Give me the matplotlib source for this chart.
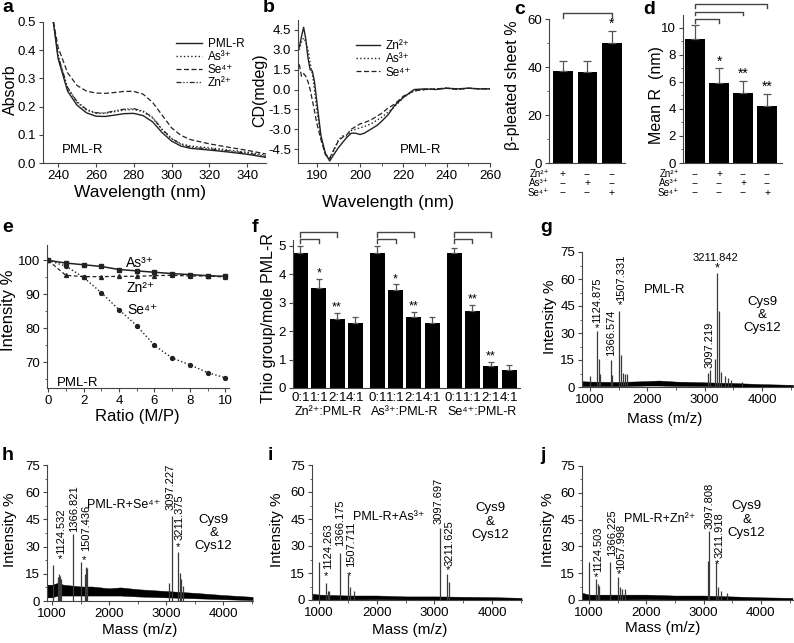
import numpy as np
import matplotlib
matplotlib.use('Agg')
import matplotlib.pyplot as plt
from matplotlib.ticker import MultipleLocator, FixedLocator, FormatStrFormatter
from matplotlib.scale import FuncScale
from matplotlib import transforms

plt.rcParams['font.family'] = ['Liberation Sans', 'DejaVu Sans']
plt.rcParams['xtick.labelsize'] = 9.5
plt.rcParams['ytick.labelsize'] = 9.5
plt.rcParams['axes.linewidth'] = 0.8
plt.rcParams['xtick.major.size'] = 3
plt.rcParams['ytick.major.size'] = 3
plt.rcParams['xtick.minor.size'] = 1.8
plt.rcParams['ytick.minor.size'] = 1.8
plt.rcParams['xtick.major.pad'] = 2
plt.rcParams['ytick.major.pad'] = 2

# ---- a) UV absorbance
a_wl = [237.5, 240, 245, 250, 255, 260, 265, 270, 275, 280, 285, 290, 295, 300, 305, 310, 320, 330, 340, 350]
a_pml = [0.50, 0.37, 0.255, 0.205, 0.178, 0.166, 0.165, 0.170, 0.175, 0.176, 0.168, 0.146, 0.108, 0.078, 0.060, 0.052, 0.046, 0.039, 0.031, 0.020]
a_as = [0.50, 0.38, 0.265, 0.215, 0.188, 0.176, 0.176, 0.182, 0.188, 0.190, 0.182, 0.160, 0.118, 0.086, 0.068, 0.060, 0.054, 0.046, 0.038, 0.028]
a_se = [0.50, 0.41, 0.32, 0.275, 0.255, 0.248, 0.247, 0.250, 0.254, 0.254, 0.244, 0.215, 0.170, 0.125, 0.098, 0.083, 0.068, 0.056, 0.045, 0.032]
a_zn = [0.50, 0.38, 0.268, 0.218, 0.190, 0.178, 0.178, 0.185, 0.191, 0.193, 0.184, 0.162, 0.120, 0.088, 0.066, 0.056, 0.050, 0.043, 0.035, 0.024]

# ---- b) CD spectra
b_wl = [186, 186.5, 187, 187.5, 188, 188.5, 189, 189.5, 190, 191, 192, 193, 194, 195, 196, 197, 198, 199, 200,
        202, 205, 208, 210, 213, 216, 220, 225, 230, 235, 240, 245, 250, 255, 260]
b_zn = [3.2, 4.0, 4.7, 3.8, 2.4, 1.5, 1.4, 0.6, -0.8, -3.5, -4.8, -5.4, -4.9, -4.4, -4.0, -3.6, -3.3, -3.3, -3.4,
        -3.3, -3.0, -2.7, -2.4, -1.9, -1.2, -0.6, 0.0, 0.05, 0.0, 0.1, 0.05, 0.1, 0.05, 0.05]
b_as = [3.0, 3.6, 3.9, 3.6, 3.0, 2.0, 1.2, 0.0, -1.5, -3.6, -4.9, -5.3, -4.6, -3.8, -3.5, -3.5, -3.1, -3.0, -2.9,
        -2.8, -2.6, -2.3, -2.1, -1.7, -1.3, -0.6, -0.1, 0.0, 0.05, 0.1, 0.0, 0.1, 0.05, 0.05]
b_se = [1.9, 1.0, 1.2, 1.0, 0.6, 0.0, -0.8, -1.6, -2.5, -3.8, -4.9, -5.2, -4.5, -3.9, -3.6, -3.4, -3.0, -2.8, -2.6,
        -2.5, -2.3, -2.0, -1.8, -1.4, -1.1, -0.5, -0.1, 0.0, 0.05, 0.1, 0.0, 0.1, 0.05, 0.05]

# ---- c) beta sheet, d) mean R
c_vals = [38.2, 37.8, 49.8]
c_err = [4.5, 4.8, 5.3]
c_stars = ['', '', '*']
c_rows = [['+', '--', '--'], ['--', '+', '--'], ['--', '--', '+']]
d_vals = [9.15, 5.9, 5.2, 4.2]
d_err = [1.05, 1.1, 0.9, 0.9]
d_stars = ['', '*', '**', '**']
d_rows = [['--', '+', '--', '--'], ['--', '--', '+', '--'], ['--', '--', '--', '+']]
ion_labels = ['Zn\u00b2\u207a', 'As\u00b3\u207a', 'Se\u2074\u207a']

# ---- e) fluorescence titration
e_ratio = [0, 1, 2, 3, 4, 5, 6, 7, 8, 9, 10]
e_as = [100, 99.2, 98.7, 98.2, 97.3, 96.9, 96.5, 96.1, 95.8, 95.5, 95.3]
e_zn = [100, 95.6, 95.2, 95.2, 95.3, 95.3, 95.5, 95.6, 95.4, 95.4, 95.1]
e_se = [100, 98.3, 95.0, 90.5, 85.5, 80.8, 75.0, 71.3, 69.3, 67.0, 65.5]

# ---- f) thiol groups
f_ratios = ['0:1', '1:1', '2:1', '4:1']
f_groups = ['Zn\u00b2\u207a:PML-R', 'As\u00b3\u207a:PML-R', 'Se\u2074\u207a:PML-R']
f_vals = [[4.75, 3.50, 2.42, 2.28], [4.75, 3.43, 2.49, 2.28], [4.75, 2.71, 0.78, 0.64]]
f_err = [[0.25, 0.32, 0.21, 0.21], [0.25, 0.21, 0.17, 0.21], [0.18, 0.21, 0.13, 0.18]]
f_stars = [['', '*', '**', ''], ['', '*', '**', ''], ['', '**', '**', '']]

# ---- g-j) mass spectra: peaks and baseline band
g_mass = [1005, 1125, 1150, 1180, 1367, 1390, 1507, 1545, 1570, 1610, 1640, 3060, 3097, 3180, 3212, 3250, 3290, 3350, 3400, 3450, 3650]
g_int = [6, 31, 15.5, 7, 15, 6.5, 42, 18, 8, 7.5, 7, 8, 9.5, 15.5, 63.5, 42.5, 8.5, 6, 5, 4, 3]
g_bm = [870, 1000, 1500, 2000, 2200, 2500, 3000, 3500, 4000, 4540]
g_blo = [0.5, 0.5, 0.5, 0.8, 0.8, 0.6, 0.5, 0.3, 0.2, 0.0]
g_bhi = [3.2, 3.0, 2.8, 3.3, 3.6, 3.0, 2.6, 2.2, 1.6, 1.2]

h_mass = [1010, 1110, 1125, 1140, 1160, 1367, 1507, 1580, 1600, 1620, 3060, 3097, 3211, 3240, 3260, 3300]
h_int = [20, 13, 15, 14, 12, 37, 21.5, 15, 18.5, 18, 10, 47, 27, 15.5, 12, 8]
h_bm = [920, 1000, 1100, 1200, 1500, 1700, 2000, 2200, 2500, 3000, 3500, 4000, 4520]
h_blo = [2, 2, 3, 3, 3, 3, 3, 3, 2.5, 2, 1.5, 1, 0.5]
h_bhi = [9, 9, 10, 9, 8, 8, 7, 7.5, 6.5, 5.5, 4.5, 3.3, 2.3]

i_mass = [1000, 1124, 1150, 1180, 1366, 1507, 1540, 1600, 3097, 3211, 3250]
i_int = [21, 9.3, 5, 5, 26, 14, 7, 5, 40.2, 14.4, 10]
i_bm = [890, 1000, 1500, 2000, 2500, 3000, 3500, 4000, 4510]
i_blo = [0.3, 0.3, 0.3, 0.4, 0.3, 0.3, 0.2, 0.2, 0.1]
i_bhi = [3.5, 3.0, 2.5, 2.5, 2.0, 2.0, 1.8, 1.6, 1.2]

j_mass = [1000, 1124, 1150, 1170, 1366, 1507, 1540, 1580, 1620, 3085, 3097, 3211, 3250, 3300, 3400]
j_int = [21.4, 11.5, 9, 8, 21, 13, 7, 6, 6, 22, 38.5, 21, 7, 5, 4]
j_bm = [885, 1000, 1500, 2000, 2500, 3000, 3500, 4000, 4550]
j_blo = [0.3, 0.3, 0.3, 0.4, 0.3, 0.3, 0.2, 0.2, 0.1]
j_bhi = [4.0, 3.0, 3.0, 3.0, 2.5, 2.5, 2.0, 1.5, 1.2]

W, H = 794, 643
fig = plt.figure(figsize=(W / 100, H / 100), dpi=100)


def add_ax(l, t, r, b):
    ax = fig.add_axes([l / W, 1 - b / H, (r - l) / W, (b - t) / H])
    ax.spines['top'].set_visible(False)
    ax.spines['right'].set_visible(False)
    for s in ax.spines.values():
        s.set_color('#444444')
    ax.tick_params(colors='#444444', labelcolor='black', which='both')
    return ax


def ftext(x, y, s, **kw):
    fig.text(x / W, 1 - y / H, s, **kw)


def letter(x, y, s):
    ftext(x, y, s, fontsize=14, fontweight='bold', ha='left', va='center')


# ---------------- a
ax = add_ax(43, 22, 266, 163)
ax.plot(a_wl, a_pml, color='#222222', lw=1.0, label='PML-R')
ax.plot(a_wl, a_as, color='#222222', lw=1.0, ls=':', label=ion_labels[1])
ax.plot(a_wl, a_se, color='#222222', lw=0.9, ls=(0, (4, 2)), label=ion_labels[2])
ax.plot(a_wl, a_zn, color='#222222', lw=0.9, ls=(0, (4, 1.5, 1, 1.5, 1, 1.5)), label=ion_labels[0])
ax.set_xlim(232, 350)
ax.set_ylim(0, 0.5)
ax.set_xticks([240, 260, 280, 300, 320, 340])
ax.set_yticks([0, 0.1, 0.2, 0.3, 0.4, 0.5])
ax.yaxis.set_major_formatter(FormatStrFormatter('%.1f'))
ax.legend(loc='upper right', bbox_to_anchor=(0.93, 0.93), frameon=False, fontsize=8.5,
          handlelength=2.2, labelspacing=0.1, borderpad=0, handletextpad=0.5)
ax.text(242, 0.035, 'PML-R', fontsize=9.5)
ftext(10, 90, 'Absorb', rotation=90, ha='center', va='center', fontsize=11.5)
ftext(140, 193, 'Wavelength (nm)', ha='center', va='center', fontsize=12.5)
letter(2, 8, 'a')

# ---------------- b
ax = add_ax(298, 20, 490, 163)


def fwd(x):
    x = np.asarray(x, dtype=float)
    return np.where(x < 200, 200 - (200 - x) * 2.0, x)


def inv(y):
    y = np.asarray(y, dtype=float)
    return np.where(y < 200, 200 - (200 - y) / 2.0, y)


ax.set_xscale(FuncScale(ax.xaxis, (fwd, inv)))
ax.plot(b_wl, b_zn, color='#222222', lw=1.0, label=ion_labels[0])
ax.plot(b_wl, b_as, color='#222222', lw=1.0, ls=':', label=ion_labels[1])
ax.plot(b_wl, b_se, color='#222222', lw=0.9, ls=(0, (4, 2)), label=ion_labels[2])
ax.set_xlim(185.7, 260)
ax.set_ylim(-5.55, 5.25)
ax.xaxis.set_major_locator(FixedLocator([190, 200, 220, 240, 260]))
ax.xaxis.set_minor_locator(FixedLocator([195, 210, 230, 250]))
ax.xaxis.set_major_formatter(FormatStrFormatter('%d'))
ax.xaxis.set_minor_formatter(plt.NullFormatter())
ax.set_yticks([-4.5, -3.0, -1.5, 0.0, 1.5, 3.0, 4.5])
ax.yaxis.set_major_formatter(FormatStrFormatter('%.1f'))
ax.legend(loc='upper right', bbox_to_anchor=(0.62, 0.9), frameon=False, fontsize=8.5,
          handlelength=2.0, labelspacing=0.1, borderpad=0, handletextpad=0.5)
ax.text(228, -4.6, 'PML-R', fontsize=9.5, ha='center', va='center')
ftext(260, 90, 'CD(mdeg)', rotation=90, ha='center', va='center', fontsize=11.5)
ftext(388, 202, 'Wavelength (nm)', ha='center', va='center', fontsize=12.5)
letter(263, 8, 'b')


# ---------------- c and d
def bar_panel(ax, vals, err, stars, rows, labx, ylab, ylabx, ylaby):
    x = np.arange(len(vals))
    ax.bar(x, vals, width=0.8, color='black')
    ax.errorbar(x, vals, yerr=[[0] * len(vals), err], fmt='none', ecolor='#555555',
                elinewidth=0.9, capsize=3, capthick=0.9)
    for xi, v, e, s in zip(x, vals, err, stars):
        if s:
            ax.text(xi, v + e, s, ha='center', va='bottom', fontsize=10)
    ax.set_xticks([])
    tr = transforms.blended_transform_factory(ax.transData, fig.transFigure)
    for r, (lab, row) in enumerate(zip(ion_labels, rows)):
        yy = 1 - (174 + 9.3 * r) / H
        fig.text(labx / W, yy, lab, ha='right', va='center', fontsize=7)
        for xi, sym in zip(x, row):
            ax.text(xi, yy, sym, transform=tr, ha='center', va='center', fontsize=7.5)
    ftext(ylabx, ylaby, ylab, rotation=90, ha='center', va='center', fontsize=11.5)


ax = add_ax(549, 19, 625, 163)
bar_panel(ax, c_vals, c_err, c_stars, c_rows, 549, '\u03b2-pleated sheet %', 512, 85)
ax.set_xlim(-0.57, 2.53)
ax.set_ylim(0, 60)
ax.set_yticks([0, 20, 40, 60])
ax.yaxis.set_minor_locator(MultipleLocator(10))
ax.plot([0, 0, 2, 2], [60.5, 62.5, 62.5, 60.5], color='#444444', lw=1.0, clip_on=False)
letter(514, 10, 'c')

ax = add_ax(683, 15, 782, 163)
bar_panel(ax, d_vals, d_err, d_stars, d_rows, 679, 'Mean R  (nm)', 656, 95)
ax.set_xlim(-0.5, 3.62)
ax.set_ylim(0, 10.95)
ax.set_yticks([0, 2, 4, 6, 8, 10])
ax.yaxis.set_minor_locator(MultipleLocator(1))
for xe, yb, yt in [(3, 11.5, 11.8), (2, 10.94, 11.19), (1, 10.37, 10.69)]:
    ax.plot([0, 0, xe, xe], [yb, yt, yt, yb], color='#444444', lw=1.0, clip_on=False)
letter(643, 10, 'd')

# ---------------- e
ax = add_ax(47, 245, 229, 388)
ax.plot(e_ratio, e_as, color='#222222', lw=1.1, marker='s', ms=2.5)
ax.plot(e_ratio, e_zn, color='#222222', lw=0.9, ls=(0, (3, 2)), marker='^', ms=2.8)
ax.plot(e_ratio, e_se, color='#222222', lw=1.0, ls=':', marker='o', ms=2.8)
ax.set_xlim(-0.06, 10.2)
ax.set_ylim(62.5, 104.5)
ax.set_xticks([0, 2, 4, 6, 8, 10])
ax.xaxis.set_minor_locator(MultipleLocator(1))
ax.set_yticks([70, 80, 90, 100])
ax.yaxis.set_minor_locator(MultipleLocator(5))
ax.text(5.2, 99.2, ion_labels[1], ha='center', va='center', fontsize=10)
ax.text(5.2, 91.8, ion_labels[0], ha='center', va='center', fontsize=10)
ax.text(5.3, 85.3, ion_labels[2], ha='center', va='center', fontsize=10)
ax.text(0.5, 64.0, 'PML-R', fontsize=9.5, va='center')
ftext(9, 310, 'Intensity %', rotation=90, ha='center', va='center', fontsize=12)
ftext(137, 416, 'Ratio (M/P)', ha='center', va='center', fontsize=12)
letter(2, 227, 'e')

# ---------------- f
ax = add_ax(293, 240, 520, 388)
pos_all, lab_all = [], []
tr = transforms.blended_transform_factory(ax.transData, fig.transFigure)
for g in range(3):
    pos = [g * 4.2 + k for k in range(4)]
    ax.bar(pos, f_vals[g], width=0.82, color='black')
    ax.errorbar(pos, f_vals[g], yerr=[[0] * 4, f_err[g]], fmt='none', ecolor='#555555',
                elinewidth=0.9, capsize=2.5, capthick=0.9)
    for p, v, e, s in zip(pos, f_vals[g], f_err[g], f_stars[g]):
        if s:
            ax.text(p, v + e - 0.02, s, ha='center', va='bottom', fontsize=9)
    ax.plot([pos[0], pos[0], pos[2], pos[2]], [5.32, 5.49, 5.49, 5.32], color='#444444', lw=1.0, clip_on=False)
    ax.plot([pos[0], pos[0], pos[1], pos[1]], [5.08, 5.22, 5.22, 5.08], color='#444444', lw=1.0, clip_on=False)
    pos_all += pos
    lab_all += f_ratios
    ax.text(pos[0] + 1.5, 1 - 412 / H, f_groups[g], transform=tr, ha='center', va='center', fontsize=9)
ax.set_xticks(pos_all)
ax.set_xticklabels(lab_all, fontsize=9.5)
ax.tick_params(axis='x', length=0, pad=3)
ax.set_xlim(-0.41, 12.0)
ax.set_ylim(0, 5.2)
ax.set_yticks([0, 1, 2, 3, 4, 5])
ftext(269, 318, 'Thio group/mole PML-R', rotation=90, ha='center', va='center', fontsize=11.5)
letter(252, 227, 'f')


# ---------------- g-j
def spectrum(box, mass, inten, bm, blo, bhi, xlim):
    ax = add_ax(*box)
    ax.fill_between(bm, blo, bhi, color='black', lw=0.3)
    ax.vlines(mass, 0, inten, color='#3a3a3a', lw=0.9)
    ax.set_xlim(*xlim)
    ax.set_ylim(0, 75)
    ax.set_xticks([1000, 2000, 3000, 4000])
    ax.xaxis.set_minor_locator(MultipleLocator(500))
    ax.set_yticks([0, 15, 30, 45, 60, 75])
    ax.yaxis.set_minor_locator(MultipleLocator(7.5))
    return ax


def vlab(ax, x, y, s, star=None):
    ax.text(x, y, s, rotation=90, ha='center', va='bottom', fontsize=8)
    if star is not None:
        ax.text(star[0], star[1], '*', ha='center', va='center', fontsize=8)


def cys(ax, x, y):
    ax.text(x, y, 'Cys9\n&\nCys12', ha='center', va='center', fontsize=9.5, linespacing=1.15)


ax = spectrum((582, 252, 793, 387), g_mass, g_int, g_bm, g_blo, g_bhi, (860, 4540))
vlab(ax, 1125, 35.5, '1124.875', (1125, 33))
vlab(ax, 1366, 17.5, '1366.574')
vlab(ax, 1535, 48, '1507.331', (1520, 45.5))
vlab(ax, 3080, 10.5, '3097.219')
ax.text(3180, 71.5, '3211.842', ha='center', va='center', fontsize=8)
ax.text(3212, 66, '*', ha='center', va='center', fontsize=9)
ax.text(2300, 54, 'PML-R', ha='center', va='center', fontsize=9.5)
cys(ax, 4000, 40)
ftext(550, 317, 'Intensity %', rotation=90, ha='center', va='center', fontsize=11)
ftext(665, 419, 'Mass (m/z)', ha='center', va='center', fontsize=11)
letter(540, 227, 'g')

ax = spectrum((47, 465, 253, 601), h_mass, h_int, h_bm, h_blo, h_bhi, (912, 4526))
vlab(ax, 1158, 26, '1124.532', (1135, 23))
vlab(ax, 1380, 38, '1366.821')
vlab(ax, 1598, 27.5, '1507.436', (1555, 22.5))
vlab(ax, 3088, 50, '3097.227')
vlab(ax, 3240, 33.5, '3211.375', (3215, 30))
ax.text(2250, 53, 'PML-R+Se\u2074\u207a', ha='center', va='center', fontsize=9)
cys(ax, 3836, 37.5)
ftext(10, 530, 'Intensity %', rotation=90, ha='center', va='center', fontsize=11)
ftext(140, 630, 'Mass (m/z)', ha='center', va='center', fontsize=11)
letter(2, 455, 'h')

ax = spectrum((312, 465, 522, 600), i_mass, i_int, i_bm, i_blo, i_bhi, (879, 4518))
vlab(ax, 1157, 17, '1124.263', (1124, 13.5))
vlab(ax, 1367, 30, '1366.175')
vlab(ax, 1550, 18.5, '1507.711', (1515, 13.5))
vlab(ax, 3072, 42, '3097.697')
vlab(ax, 3263, 19, '3211.625', (3228, 16.5))
ax.text(2201, 46.3, 'PML-R+As\u00b3\u207a', ha='center', va='center', fontsize=9)
cys(ax, 3971, 43.5)
ftext(277, 530, 'Intensity %', rotation=90, ha='center', va='center', fontsize=11)
ftext(410, 630, 'Mass (m/z)', ha='center', va='center', fontsize=11)
letter(268, 455, 'i')

ax = spectrum((582, 466, 793, 600), j_mass, j_int, j_bm, j_blo, j_bhi, (878, 4560))
vlab(ax, 1160, 15.5, '1124.503', (1115, 13))
vlab(ax, 1395, 24.6, '1366.225')
vlab(ax, 1560, 17, '1057.998', (1520, 14.5))
vlab(ax, 3099, 40, '3097.808')
vlab(ax, 3273, 23.5, '3211.918', (3240, 20))
ax.text(2238, 45.6, 'PML-R+Zn\u00b2\u207a', ha='center', va='center', fontsize=9)
cys(ax, 3750, 45)
ftext(548, 530, 'Intensity %', rotation=90, ha='center', va='center', fontsize=11)
ftext(663, 628, 'Mass (m/z)', ha='center', va='center', fontsize=11)
letter(540, 455, 'j')

fig.savefig('out.png', dpi=100)
